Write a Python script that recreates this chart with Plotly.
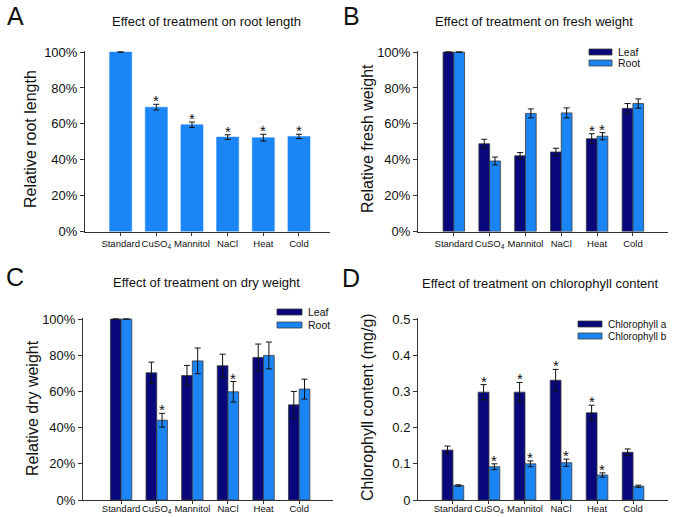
import plotly.graph_objects as go

# ---------------- data ----------------
categories = ["Standard", "CuSO<sub>4</sub>", "Mannitol", "NaCl", "Heat", "Cold"]

root_length = [100, 69.3, 59.5, 52.6, 52.3, 53.0]
root_length_err = [0, 1.6, 1.5, 1.3, 1.9, 1.2]
root_length_sig = [False, True, True, True, True, True]

fresh_leaf = [100, 48.9, 42.2, 44.3, 51.7, 68.6]
fresh_leaf_err = [0, 2.5, 1.8, 2.1, 2.8, 2.7]
fresh_leaf_sig = [False, False, False, False, True, False]
fresh_root = [100, 39.3, 65.8, 66.1, 53.1, 71.3]
fresh_root_err = [0, 2.2, 2.5, 2.8, 2.0, 2.6]
fresh_root_sig = [False, False, False, False, True, False]

dry_leaf = [100, 70.3, 68.8, 74.2, 78.8, 52.6]
dry_leaf_err = [0, 5.9, 5.6, 6.4, 7.4, 7.4]
dry_leaf_sig = [False, False, False, False, False, False]
dry_root = [100, 44.1, 76.9, 59.8, 79.9, 61.3]
dry_root_err = [0, 3.8, 7.1, 5.7, 7.4, 5.5]
dry_root_sig = [False, True, False, True, False, False]

chl_a = [0.138, 0.298, 0.298, 0.331, 0.241, 0.132]
chl_a_err = [0.011, 0.021, 0.027, 0.030, 0.021, 0.009]
chl_a_sig = [False, True, True, True, True, False]
chl_b = [0.040, 0.092, 0.100, 0.103, 0.069, 0.038]
chl_b_err = [0.002, 0.008, 0.008, 0.010, 0.006, 0.003]
chl_b_sig = [False, True, True, True, True, False]

pct_ticks = [0, 20, 40, 60, 80, 100]
pct_labels = ["0%", "20%", "40%", "60%", "80%", "100%"]
chl_ticks = [0, 0.1, 0.2, 0.3, 0.4, 0.5]
chl_labels = ["0", "0.1", "0.2", "0.3", "0.4", "0.5"]

# ---------------- style ----------------
W, H = 675, 517
FONT = "Liberation Sans, Arial, sans-serif"
DARK = "#08087C"
LIGHT = "#1C85F6"
OUTLINE = "#3a3a3a"


def px(x):
    return x / W


def py(y):
    return 1 - y / H


fig = go.Figure()

panels = {
    # name: (xaxis id, yaxis id, x domain px, y domain px, xrange, yrange, label standoff)
    "A": ("x", "y", (85, 330), (231.5, 51), [-1.0, 5.87], [0, 100.6], 0),
    "B": ("x2", "y2", (418, 668), (231.5, 51), [-1.0, 5.98], [0, 100.6], 0),
    "C": ("x3", "y3", (83, 333), (500, 318), [-1.07, 5.95], [0, 100.6], -3),
    "D": ("x4", "y4", (418, 668), (500, 318), [-0.97, 5.97], [0, 0.503], -3),
}


def err(vals):
    return dict(type="data", array=vals, visible=True, color="#111",
                thickness=1, width=3)


# Panel A
fig.add_trace(go.Bar(x=categories, y=root_length, error_y=err(root_length_err),
                     marker=dict(color=LIGHT, line=dict(color=LIGHT, width=0.5)),
                     width=0.62, showlegend=False, xaxis="x", yaxis="y"))

# Panels B, C, D (grouped)
grouped = [
    ("x2", "y2", fresh_leaf, fresh_leaf_err, fresh_root, fresh_root_err),
    ("x3", "y3", dry_leaf, dry_leaf_err, dry_root, dry_root_err),
    ("x4", "y4", chl_a, chl_a_err, chl_b, chl_b_err),
]
for xa, ya, v1, e1, v2, e2 in grouped:
    fig.add_trace(go.Bar(x=categories, y=v1, error_y=err(e1),
                         marker=dict(color=DARK, line=dict(color=OUTLINE, width=0.8)),
                         width=0.3, offset=-0.3, showlegend=False,
                         xaxis=xa, yaxis=ya))
    fig.add_trace(go.Bar(x=categories, y=v2, error_y=err(e2),
                         marker=dict(color=LIGHT, line=dict(color=OUTLINE, width=0.8)),
                         width=0.3, offset=0.0, showlegend=False,
                         xaxis=xa, yaxis=ya))

layout = dict(
    width=W, height=H,
    margin=dict(l=0, r=0, t=0, b=0),
    paper_bgcolor="white", plot_bgcolor="white",
    font=dict(family=FONT, color="#111"),
    barmode="overlay",
)

for name, (xa, ya, xd, yd, xr, yr, so) in panels.items():
    xkey = "xaxis" if xa == "x" else "xaxis" + xa[1:]
    ykey = "yaxis" if ya == "y" else "yaxis" + ya[1:]
    layout[xkey] = dict(
        domain=[px(xd[0]), px(xd[1])], range=xr, anchor=ya,
        type="category", showline=True, linecolor="#333", linewidth=1,
        ticks="outside", ticklen=3, tickcolor="#333", showgrid=False,
        tickangle=0, automargin=False, ticklabelstandoff=so,
        tickfont=dict(size=9.5, color="#111", family=FONT), zeroline=False,
    )
    if name == "D":
        tv, tt = chl_ticks, chl_labels
    else:
        tv, tt = pct_ticks, pct_labels
    layout[ykey] = dict(
        domain=[py(yd[0]), py(yd[1])], range=yr, anchor=xa,
        showline=True, linecolor="#333", linewidth=1,
        ticks="outside", ticklen=4, tickcolor="#333", showgrid=False,
        tickvals=tv, ticktext=tt, zeroline=False, automargin=False,
        tickfont=dict(size=13, color="#111", family=FONT),
    )

fig.update_layout(**layout)

annotations = []
shapes = []

# Panel letters
texts = [
    ("A", 15, 16, 25), ("B", 351, 16, 25), ("C", 15, 277, 25), ("D", 351, 278, 25),
]
for t, x, y, s in texts:
    annotations.append(dict(text=t, x=px(x), y=py(y), xref="paper", yref="paper",
                            showarrow=False, font=dict(size=s, color="#111", family=FONT),
                            xanchor="center", yanchor="middle"))

titles = [
    ("Effect of treatment on root length", 207, 22),
    ("Effect of treatment on fresh weight", 534, 22),
    ("Effect of treatment on dry weight", 207, 282),
    ("Effect of treatment on chlorophyll content", 540, 283),
]
for t, x, y in titles:
    annotations.append(dict(text=t, x=px(x), y=py(y), xref="paper", yref="paper",
                            showarrow=False, font=dict(size=13, color="#111", family=FONT),
                            xanchor="center", yanchor="middle"))

ytitles = [
    ("Relative root length", 30, 139),
    ("Relative fresh weight", 367, 139),
    ("Relative dry weight", 32, 408),
    ("Chlorophyll content (mg/g)", 367, 407),
]
for t, x, y in ytitles:
    annotations.append(dict(text=t, x=px(x), y=py(y), xref="paper", yref="paper",
                            showarrow=False, textangle=-90,
                            font=dict(size=16, color="#111", family=FONT),
                            xanchor="center", yanchor="middle"))

# Legends (B, C, D)
legends = [
    (589, 612, 52, 63, "Leaf", "Root", 10.5),
    (277, 302, 312, 325, "Leaf", "Root", 10.5),
    (578, 602, 324, 336, "Chlorophyll a", "Chlorophyll b", 10),
]
for x0, x1, y1, y2, l1, l2, fs in legends:
    for yy, col, lab in ((y1, DARK, l1), (y2, LIGHT, l2)):
        shapes.append(dict(type="rect", xref="paper", yref="paper",
                           x0=px(x0), x1=px(x1), y0=py(yy + 3), y1=py(yy - 3),
                           fillcolor=col, line=dict(color=OUTLINE, width=0.8)))
        annotations.append(dict(text=lab, x=px(x1 + 4), y=py(yy), xref="paper",
                                yref="paper", showarrow=False, xanchor="left",
                                yanchor="middle",
                                font=dict(size=fs, color="#111", family=FONT)))


# Significance asterisks
def stars(xa, ya, vals, errs, sig, offset):
    for i, (v, e, s) in enumerate(zip(vals, errs, sig)):
        if s:
            annotations.append(dict(text="*", x=i + offset, y=v + e, xref=xa, yref=ya,
                                    showarrow=False, xanchor="center", yanchor="bottom",
                                    yshift=-7,
                                    font=dict(size=15, color="#111", family=FONT)))


stars("x", "y", root_length, root_length_err, root_length_sig, 0)
stars("x2", "y2", fresh_leaf, fresh_leaf_err, fresh_leaf_sig, -0.15)
stars("x2", "y2", fresh_root, fresh_root_err, fresh_root_sig, 0.15)
stars("x3", "y3", dry_leaf, dry_leaf_err, dry_leaf_sig, -0.15)
stars("x3", "y3", dry_root, dry_root_err, dry_root_sig, 0.15)
stars("x4", "y4", chl_a, chl_a_err, chl_a_sig, -0.15)
stars("x4", "y4", chl_b, chl_b_err, chl_b_sig, 0.15)

fig.update_layout(annotations=annotations, shapes=shapes)

fig.write_html("out.html", config={"displayModeBar": False},
               post_script="document.body.style.margin='0px';")
